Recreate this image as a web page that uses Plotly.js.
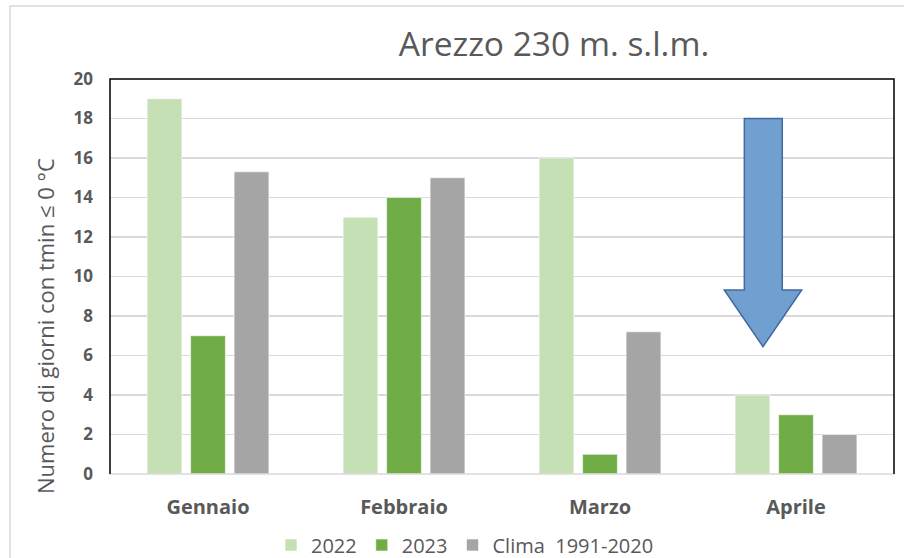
<!DOCTYPE html>
<html><head><meta charset="utf-8">
<script src="https://cdn.plot.ly/plotly-3.0.1.min.js"></script>
<style>html,body{margin:0;padding:0;background:#fff;}#chart{width:904px;height:558px;}</style>
</head><body><div id="chart"></div>
<script>
const months = ["Gennaio", "Febbraio", "Marzo", "Aprile"];
const y2022 = [19, 13, 16, 4];
const y2023 = [7, 14, 1, 3];
const clima = [15.3, 15, 7.2, 2];
const seriesNames = ["2022", "2023", "Clima\u00a0 1991-2020"];
const yTicks = [0, 2, 4, 6, 8, 10, 12, 14, 16, 18, 20];

const colors = ["#c5e0b4", "#70ad47", "#a5a5a5"];
const gray = "#595959";
const font = "Open Sans, DejaVu Sans, sans-serif";

const traces = [y2022, y2023, clima].map((v, i) => ({
  type: "bar", x: months, y: v, name: seriesNames[i],
  marker: {color: colors[i], line: {color: "rgba(255,255,255,0.6)", width: 1}},
  hoverinfo: "x+y"
}));

const layout = {
  width: 904, height: 558,
  margin: {l: 110, r: 10, t: 79, b: 84},
  paper_bgcolor: "#fff", plot_bgcolor: "#fff",
  barmode: "group", bargap: 0.334, bargroupgap: 0.2,
  title: {text: "Arezzo 230 m. s.l.m.", font: {family: font, size: 33.5, color: gray},
          x: 554/904, xanchor: "center", y: 1 - 44/558, yanchor: "middle"},
  xaxis: {
    type: "category", showgrid: false, showline: false, zeroline: false,
    ticks: "", ticklabelstandoff: 19,
    tickfont: {family: font, size: 20, color: gray, weight: "bold"}
  },
  yaxis: {
    range: [0, 20], tickvals: yTicks, ticktext: yTicks.map(String),
    showgrid: true, gridcolor: "#d9d9d9", gridwidth: 1.5,
    zeroline: false, showline: false, ticks: "", ticklabelstandoff: 16,
    tickfont: {family: font, size: 17, color: gray, weight: "bold"}
  },
  showlegend: true,
  legend: {orientation: "h", xref: "container", yref: "container",
           x: 465/904, xanchor: "center", y: (558-545)/558, yanchor: "middle",
           font: {family: font, size: 20, color: gray}, itemwidth: 30, traceorder: "normal"},
  annotations: [{
    text: "Numero di giorni con tmin ≤ 0 °C", textangle: -90, showarrow: false,
    xref: "paper", yref: "paper", x: (45-110)/784, y: (474-326)/395,
    xanchor: "center", yanchor: "middle",
    font: {family: font, size: 22, color: gray}
  }],
  shapes: [
    {type: "rect", xref: "paper", yref: "paper", x0: (10-110)/784, x1: 1.5, y0: -0.5, y1: (474-6)/395,
     line: {color: "#d9d9d9", width: 1.5}, fillcolor: "rgba(0,0,0,0)", layer: "below"},
    {type: "line", xref: "paper", yref: "paper", x0: 0, x1: 1, y0: 0, y1: 0, line: {color: "#d9d9d9", width: 1.5}},
    {type: "path", xref: "paper", yref: "paper", path: "M0,0 L0,1 L1,1 L1,0", line: {color: "#000", width: 1.5}},
    {type: "path", xref: "paper", yref: "y",
     path: "M0.8091,18 L0.8575,18 L0.8575,9.32 L0.8823,9.32 L0.8329,6.45 L0.7835,9.32 L0.8091,9.32 Z",
     fillcolor: "#719fd0", line: {color: "#41699e", width: 1.5}}
  ]
};
Plotly.newPlot("chart", traces, layout, {displayModeBar: false, staticPlot: true});
</script></body></html>
